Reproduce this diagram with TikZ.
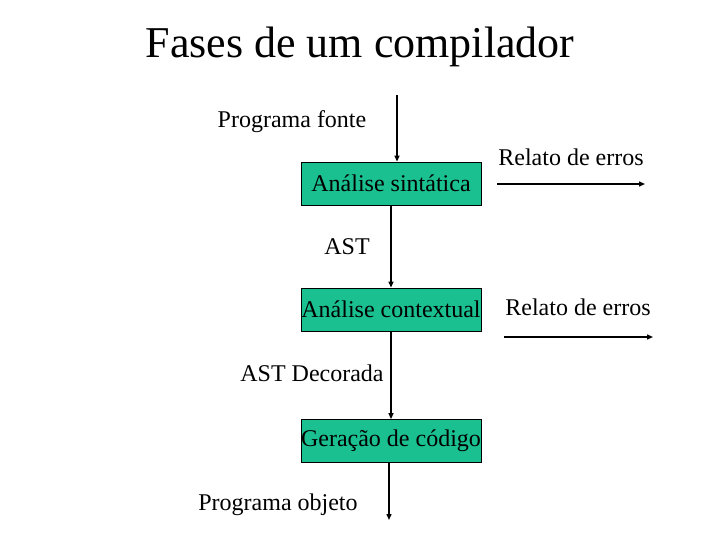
\documentclass[tikz,border=0pt]{standalone}
\usepackage{fontspec}
\setmainfont{Liberation Serif}
\usepackage{xcolor}
\usetikzlibrary{positioning, arrows.meta}
\definecolor{phaseTeal}{RGB}{26, 192, 144}

\begin{document}
\begin{tikzpicture}[
    x=1pt, y=-1pt,
    font=\fontsize{24}{28}\selectfont,
    phase/.style={rectangle, draw=black, thick, fill=phaseTeal, minimum width=180pt, minimum height=43pt, inner sep=0pt},
    arr/.style={-{Triangle[length=6pt, width=5pt]}, line width=1.4pt},
    lbl/.style={inner sep=0pt}
]
\useasboundingbox (0,0) rectangle (720,540);

\node[font=\fontsize{44}{52}\selectfont] (title) at (360,47) {Fases de um compilador};

\node[phase] (sint) at (391,183.5) {Análise sintática};
\node[phase] (ctx)  at (391,309.5) {Análise contextual};
\node[phase] (gen)  at (391,441)   {Geração de código};

\coordinate (src) at (397,95);
\coordinate (obj) at (389,520);
\coordinate (e1a) at (497,184); \coordinate (e1b) at (645,184);
\coordinate (e2a) at (504,337); \coordinate (e2b) at (653,337);

\draw[arr] (src) -- (src |- sint.north);
\draw[arr] (sint.south) -- (ctx.north);
\draw[arr] (ctx.south) -- (gen.north);
\draw[arr] (gen.south -| obj) -- (obj);
\draw[arr] (e1a) -- (e1b);
\draw[arr] (e2a) -- (e2b);

\node[lbl] (fonte)  at (292,122) {Programa fonte};
\node[lbl] (ast)    at (347,247) {AST};
\node[lbl] (astdec) at (312,373) {AST Decorada};
\node[lbl] (objeto) at (278,505) {Programa objeto};
\node[lbl] (err1)   at (571,157) {Relato de erros};
\node[lbl] (err2)   at (578,307) {Relato de erros};
\end{tikzpicture}
\end{document}
